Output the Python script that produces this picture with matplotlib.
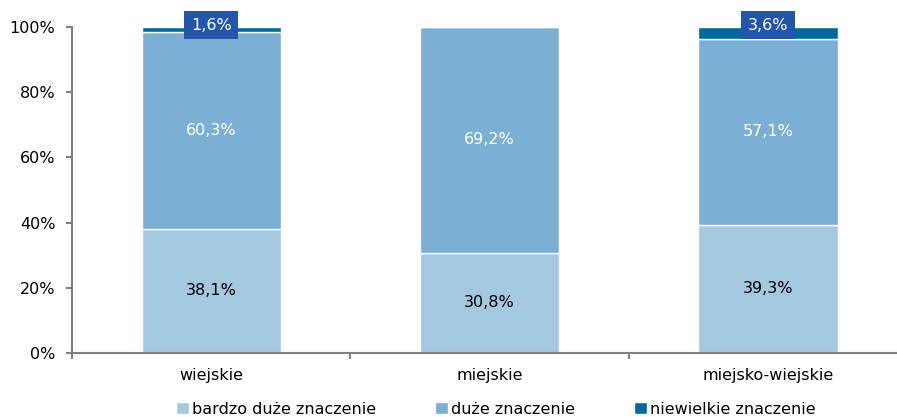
import numpy as np
import matplotlib
matplotlib.use('Agg')
from matplotlib import pyplot as plt
from matplotlib.patches import Patch

categories = ['wiejskie', 'miejskie', 'miejsko-wiejskie']
series_names = ['bardzo duże znaczenie', 'duże znaczenie', 'niewielkie znaczenie']
bardzo_duze = [38.1, 30.8, 39.3]
duze = [60.3, 69.2, 57.1]
niewielkie = [1.6, 0.0, 3.6]

colors = ['#a5c8e1', '#7bafd4', '#00699c']
box_color = '#2355a9'

plt.rcParams['font.family'] = ['DejaVu Sans']
fs = 11.5

fig = plt.figure(figsize=(8.97, 4.17), dpi=100)
ax = fig.add_axes([72 / 897, 1 - 353 / 417, (896 - 72) / 897, (353 - 27) / 417])

x = np.arange(len(categories))
width = 0.5
ax.bar(x, bardzo_duze, width, color=colors[0], edgecolor='white', linewidth=1)
ax.bar(x, duze, width, bottom=bardzo_duze, color=colors[1], edgecolor='white', linewidth=1)
bottom3 = np.array(bardzo_duze) + np.array(duze)
ax.bar(x, niewielkie, width, bottom=bottom3, color=colors[2], edgecolor='white', linewidth=1)


def fmt(v):
    return ('%.1f%%' % v).replace('.', ',')


for i in range(len(categories)):
    ax.text(x[i], bardzo_duze[i] / 2, fmt(bardzo_duze[i]), ha='center', va='center',
            fontsize=fs, color='black')
    ax.text(x[i], bardzo_duze[i] + duze[i] / 2, fmt(duze[i]), ha='center', va='center',
            fontsize=fs, color='white')
    if niewielkie[i] > 0:
        ax.text(x[i], 100.6, fmt(niewielkie[i]), ha='center', va='center',
                fontsize=fs, color='white',
                bbox=dict(boxstyle='square,pad=0.4', facecolor=box_color, edgecolor='none'))

ax.set_xlim(-0.5, 2.46)
ax.set_ylim(0, 100)
ax.set_yticks(np.arange(0, 101, 20))
ax.set_yticklabels(['%d%%' % v for v in range(0, 101, 20)], fontsize=fs)
ax.set_xticks(x)
ax.set_xticklabels(categories, fontsize=fs)
ax.tick_params(axis='x', which='major', length=0, pad=11)
ax.set_xticks([-0.5, 0.5, 1.5], minor=True)
ax.tick_params(axis='x', which='minor', length=4, color='#808080', width=1.5)
ax.tick_params(axis='y', length=4, color='#808080', width=1.5, pad=8)

for s in ['top', 'right']:
    ax.spines[s].set_visible(False)
for s in ['left', 'bottom']:
    ax.spines[s].set_color('#808080')
    ax.spines[s].set_linewidth(1.5)

handles = [Patch(facecolor=c, edgecolor='white') for c in colors]
fig.legend(handles, series_names, loc='center', bbox_to_anchor=(0.553, 1 - 409 / 417), ncol=3,
           frameon=False, fontsize=fs, handlelength=0.8, handleheight=0.8,
           handletextpad=0.2, columnspacing=3.7, borderpad=0)

plt.savefig('out.png', dpi=100)
